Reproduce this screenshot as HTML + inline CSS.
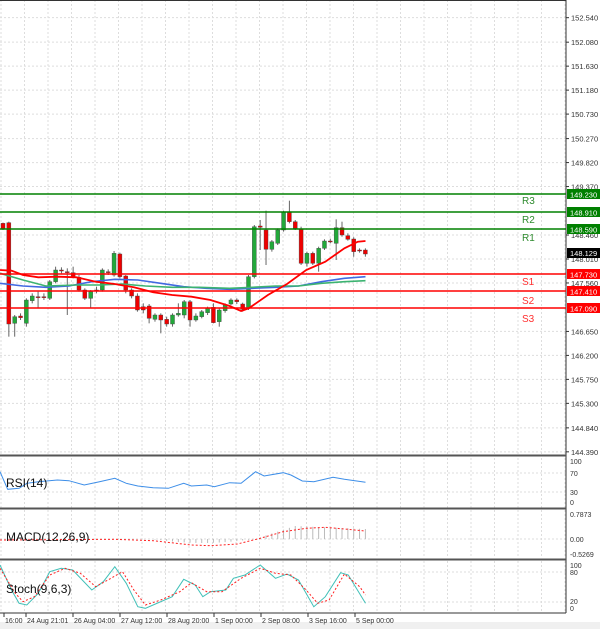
<!DOCTYPE html>
<html><head><meta charset="utf-8"><style>
html,body{margin:0;padding:0;background:#fff;}
svg{display:block;font-family:"Liberation Sans",sans-serif;}
</style></head><body>
<svg id="s" width="600" height="629" xmlns="http://www.w3.org/2000/svg"></svg>
<script>
var s=document.getElementById('s'),h='';
function L(x1,y1,x2,y2,c,w,d){h+='<line x1="'+x1+'" y1="'+y1+'" x2="'+x2+'" y2="'+y2+'" stroke="'+c+'" stroke-width="'+(w||1)+'"'+(d?' stroke-dasharray="'+d+'"':'')+'/>';}
function T(x,y,t,sz,c,a){h+='<text x="'+x+'" y="'+y+'" font-size="'+sz+'" fill="'+(c||'#333')+'"'+(a?' text-anchor="'+a+'"':'')+'>'+t+'</text>';}
function P(pts,c,w,d,sx,sy,oy){var p=pts.map(function(q){return (q[0]/2.613).toFixed(1)+','+(q[1]/sy+oy).toFixed(1)}).join(' ');h+='<polyline points="'+p+'" fill="none" stroke="'+c+'" stroke-width="'+w+'"'+(d?' stroke-dasharray="'+d+'"':'')+'/>';}
h+='<rect x="0" y="622" width="600" height="7" fill="#f0f0f0"/>';
for(var x=1;x<566;x+=23.5){L(x,0,x,455,'#ddd',1,'2,2');L(x,458,x,508,'#ddd',1,'2,2');L(x,510,x,558,'#ddd',1,'2,2');L(x,561,x,612,'#ddd',1,'2,2');}
var labs=['152.540','152.080','151.630','151.180','150.730','150.270','149.820','149.370','148.460','148.010','147.560','146.650','146.200','145.750','145.300','144.840','144.390'];
labs.forEach(function(l){var y=194+(149.23-parseFloat(l))*53.27;L(0,y,566,y,'#ddd',1,'2,2');L(566,y,569,y,'#333',1);T(571,y+3,l,7.5,'#333');});
[473,492,539,572,602].forEach(function(y){L(0,y,566,y,'#ddd',1,'2,2');});
L(0,0.5,566,0.5,'#333',1);L(566,0,566,613,'#333',1);
L(0,455.5,566,455.5,'#555',2);L(0,508.5,566,508.5,'#555',2);L(0,559.5,566,559.5,'#555',2);L(0,613,566,613,'#333',1);
var lv=[[194,'149.230','R3','#008000',200],[212,'148.910','R2','#008000',219],[229,'148.590','R1','#008000',237],[274,'147.730','S1','#ff0000',281],[291,'147.410','S2','#ff0000',300],[308,'147.090','S3','#ff0000',318]];
var c=[[130,148,128,150],[128,432,125,470],[430,410,405,470],[408,413,400,420],[430,360,355,440],[362,348,340,370],[350,351,335,385],[350,351,340,360],[355,305,300,360],[305,270,260,310],[270,271,262,280],[275,276,265,405],[278,290,260,295],[292,330,285,335],[330,355,325,360],[355,335,330,385],[330,331,320,340],[330,270,265,335],[275,276,268,285],[285,220,213,290],[222,290,218,295],[288,330,285,340],[330,348,325,355],[348,390,340,395],[380,390,370,400],[378,415,372,430],[418,405,400,425],[405,420,400,460],[418,432,410,440],[432,405,400,440],[405,400,370,410],[405,365,360,415],[365,420,360,440],[420,408,400,425],[410,395,390,415],[398,385,380,405],[382,428,370,430],[425,390,385,440],[392,375,370,398],[372,360,355,376],[360,365,355,372],[372,388,368,395],[385,290,285,390],[290,140,135,295],[138,142,120,210],[150,208,92,255],[208,185,180,215],[190,150,145,195],[150,95,92,155],[95,125,62,130],[125,145,120,150],[148,250,140,255],[250,220,215,260],[220,250,215,255],[250,205,200,275],[205,183,178,210],[183,184,176,190],[190,143,118,240],[143,165,125,170],[167,178,160,182],[177,215,172,230],[210,211,205,218],[210,222,205,230]];
c.forEach(function(k,i){var x=3+i*5.845,o=k[0]/3+180,cl=k[1]/3+180,hi=k[2]/3+180,lo=k[3]/3+180;var up=cl<o;L(x,hi,x,lo,'#666',1);var t=Math.min(o,cl),b=Math.max(Math.abs(cl-o),1);h+='<rect x="'+(x-2)+'" y="'+t+'" width="4" height="'+b+'" fill="'+(up?'#22a83a':'#ee0000')+'" stroke="#444" stroke-width="0.4"/>';});
P([[0,310],[60,318],[120,322],[180,318],[240,305],[300,298],[360,300],[420,310],[480,320],[540,325],[600,328],[660,325],[720,322],[780,318],[840,305],[900,295],[955,290]],'#4169e1',1.6,0,3,3,180);
P([[0,280],[60,300],[120,318],[200,315],[260,315],[320,312],[380,318],[450,322],[520,322],[600,325],[660,322],[720,318],[780,318],[840,310],[900,305],[955,302]],'#3cb371',1.6,0,3,3,180);
P([[0,270],[30,272],[60,285],[100,292],[150,290],[200,292],[250,305],[300,312],[350,322],[400,337],[450,345],[500,350],[550,360],[600,378],[630,393],[650,385],[700,345],[750,312],[800,270],[850,245],[900,205],[935,185],[955,183]],'#ff0000',1.8,0,3,3,180);
lv.forEach(function(a){L(0,a[0],566,a[0],a[3],1.6);h+='<rect x="567" y="'+(a[0]-5)+'" width="33" height="10" fill="'+a[3]+'"/>';T(570,a[0]+3.5,a[1],7.5,'#fff');T(522,a[4]+4,a[2],10,a[3]=='#008000'?'#2e8b2e':'#ff3030');});
h+='<rect x="567" y="248" width="33" height="10" fill="#000"/>';T(570,256,'148.129',7.5,'#fff');
P([[0,65],[20,118],[50,115],[70,100],[100,95],[150,90],[180,92],[220,105],[260,95],[300,85],[330,100],[360,108],[400,113],[440,115],[480,100],[500,108],[540,105],[560,110],[600,98],[630,100],[668,65],[690,78],[740,68],[760,75],[790,93],[820,95],[870,82],[900,88],[955,97]],'#3d8ee8',1,0,3,3,450);
T(6,487,'RSI(14)',12,'#111');
[[464,'100'],[476,'70'],[495,'30'],[505,'0']].forEach(function(a){T(570,a[0],a[1],7,'#333');});
for(var i=0;i<63;i++){var x=3+i*5.845;var v;if(x<150)v=0;else if(x<255)v=-Math.sin((x-150)/105*Math.PI)*4;else if(x<295)v=(x-255)/40*13;else v=13-(x-295)/70*3;if(x>150)L(x,539,x,539-v,'#bbb',1);}
P([[0,270],[300,268],[400,272],[500,285],[550,287],[620,282],[680,265],[740,245],[800,235],[850,232],[900,237],[955,243]],'#ff2020',1,'2,2',3,3,450);
T(6,541,'MACD(12,26,9)',12,'#111');
T(570,517,'0.7873',7,'#333');T(570,542,'0.00',7,'#333');T(570,557,'-0.5269',7,'#333');
P([[0,345],[30,420],[50,460],[70,465],[100,430],[130,365],[160,355],[190,360],[240,420],[270,395],[300,350],[330,400],[360,470],[380,475],[400,465],[450,440],[480,388],[510,405],[530,440],[550,425],[590,420],[610,385],[640,375],[680,345],[720,385],[750,372],[780,390],[820,470],[850,440],[890,368],[910,375],[955,460]],'#40c0b8',1,0,3,3,450);
P([[0,355],[40,430],[60,455],[90,440],[130,375],[170,355],[210,370],[250,410],[290,385],[320,365],[350,420],[380,465],[420,450],[470,425],[500,398],[540,425],[580,425],[630,385],[680,355],[720,370],[760,375],[800,420],[830,460],[860,450],[900,372],[940,410],[955,435]],'#ff2020',1,'2,2',3,3,450);
T(6,593,'Stoch(9,6,3)',12,'#111');
[[568,'100'],[575,'80'],[604,'20'],[611,'0']].forEach(function(a){T(570,a[0],a[1],7,'#333');});
[[2,'16:00'],[24,'24 Aug 21:01'],[71,'26 Aug 04:00'],[118,'27 Aug 12:00'],[165,'28 Aug 20:00'],[212,'1 Sep 00:00'],[259,'2 Sep 08:00'],[306,'3 Sep 16:00'],[353,'5 Sep 00:00']].forEach(function(a){L(a[0]+2,613,a[0]+2,617,'#333',1);T(a[0]+3,623,a[1],7,'#333');});
s.innerHTML=h;
</script>
</body></html>
